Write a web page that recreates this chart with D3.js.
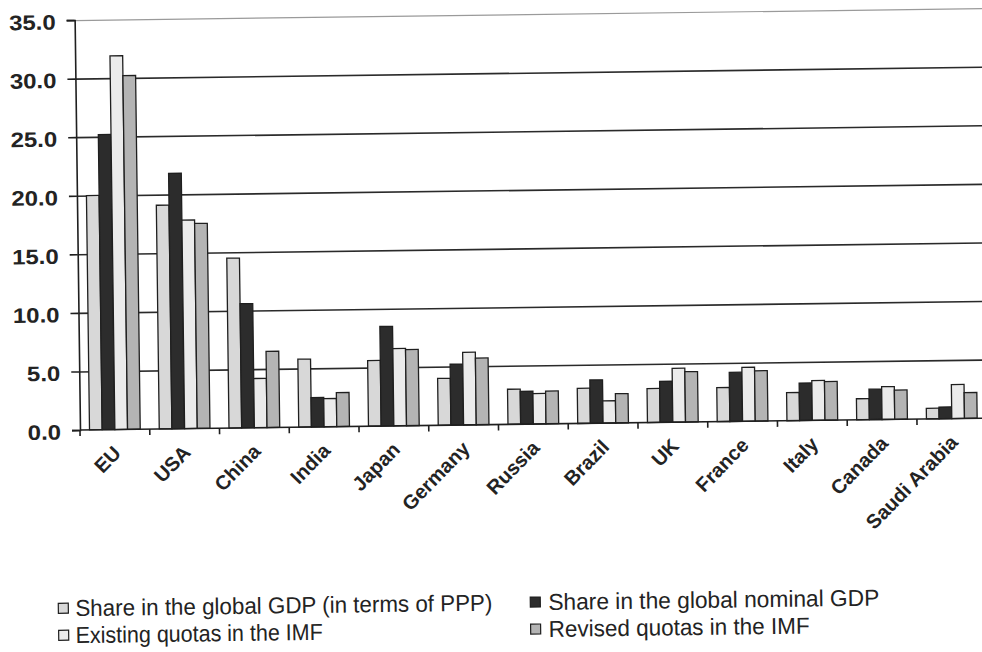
<!DOCTYPE html>
<html>
<head>
<meta charset="utf-8">
<script src="https://cdn.jsdelivr.net/npm/d3@7"></script>
<style>
  html, body { margin: 0; padding: 0; background: #fff; }
  svg { display: block; }
</style>
</head>
<body>
<svg id="chart" width="982" height="652"></svg>
<script>
// Shares of world output versus IMF quota shares, per economy (%)
const categories = ["EU", "USA", "China", "India", "Japan", "Germany", "Russia",
  "Brazil", "UK", "France", "Italy", "Canada", "Saudi Arabia"];
const pppShare      = [20.0, 19.1, 14.5, 5.8, 5.6, 4.0, 3.0, 3.0, 2.9, 2.9, 2.4, 1.8, 0.9];
const nominalShare  = [25.2, 21.8, 10.6, 2.5, 8.5, 5.2, 2.8, 3.7, 3.5, 4.2, 3.2, 2.6, 1.0];
const existingQuota = [31.9, 17.8, 4.2, 2.4, 6.6, 6.2, 2.6, 1.9, 4.6, 4.6, 3.4, 2.8, 2.9];
const revisedQuota  = [30.2, 17.5, 6.5, 2.9, 6.5, 5.7, 2.8, 2.5, 4.3, 4.3, 3.3, 2.5, 2.2];
const seriesNames = [
  "Share in the global GDP (in terms of PPP)",
  "Share in the global nominal GDP",
  "Existing quotas in the IMF",
  "Revised quotas in the IMF"
];
const yTicks = [0, 5, 10, 15, 20, 25, 30, 35];

const seriesValues = [pppShare, nominalShare, existingQuota, revisedQuota];
const seriesColors = ["#d8d8d8", "#2c2c2c", "#ebebeb", "#b4b4b4"];
const outline = "#1f1f1f";

const svg = d3.select("#chart");
const plotLeft = 80, plotBottom = 430, plotTop = 20, plotRight = 80 + 13 * 69.75;

// the whole sheet sits slightly tilted
const g = svg.append("g").attr("transform", `rotate(-0.75, ${plotLeft}, ${plotBottom})`);

const x = d3.scaleBand().domain(categories).range([plotLeft, plotRight]).padding(0);
const bw = x.bandwidth() / 5.5;
const xs = d3.scaleBand().domain(d3.range(4))
  .range([0.75 * bw, x.bandwidth() - 0.75 * bw]).padding(0);
const y = d3.scaleLinear().domain([0, 35]).range([plotBottom, plotTop]);

// horizontal gridlines
const grid = g.append("g").attr("transform", `translate(${plotLeft},0)`)
  .call(d3.axisLeft(y).tickValues(yTicks.filter(v => v > 0)).tickSize(-(1010 - plotLeft)).tickFormat(""));
grid.select(".domain").remove();
grid.selectAll(".tick line")
  .attr("stroke", d => d === 35 ? "#9a9a9a" : "#2a2a2a")
  .attr("stroke-width", d => d === 35 ? 1.2 : 1.6);

// bars
const groups = g.append("g").selectAll("g").data(categories).join("g")
  .attr("transform", d => `translate(${x(d)},0)`);
groups.selectAll("rect")
  .data((c, i) => seriesValues.map((vals, s) => ({ s, v: vals[i] })))
  .join("rect")
  .attr("x", d => xs(d.s))
  .attr("width", xs.bandwidth())
  .attr("y", d => y(d.v))
  .attr("height", d => y(0) - y(d.v))
  .attr("fill", d => seriesColors[d.s])
  .attr("stroke", outline)
  .attr("stroke-width", 1.3);

// y axis with labels
const yAxis = g.append("g").attr("transform", `translate(${plotLeft},0)`)
  .call(d3.axisLeft(y).tickValues(yTicks).tickSize(8).tickPadding(11)
    .tickFormat(d3.format(".1f")));
yAxis.select(".domain").attr("stroke", "#1f1f1f").attr("stroke-width", 1.6);
yAxis.selectAll(".tick line").attr("stroke", "#1f1f1f").attr("stroke-width", 1.6);
yAxis.selectAll(".tick text")
  .attr("fill", "#232323")
  .attr("y", 2)
  .style("font-family", "'Liberation Sans', Arial, sans-serif")
  .style("font-weight", "bold")
  .style("font-size", "21px")
  .each(function () {
    const w = this.getComputedTextLength();
    d3.select(this).attr("textLength", w * 1.14).attr("lengthAdjust", "spacingAndGlyphs");
  });

// x axis line and category boundary ticks
const xAxis = g.append("g");
xAxis.append("line")
  .attr("x1", plotLeft).attr("x2", 1010).attr("y1", y(0)).attr("y2", y(0))
  .attr("stroke", "#1f1f1f").attr("stroke-width", 1.6);
xAxis.selectAll("line.tk").data(categories).join("line").attr("class", "tk")
  .attr("x1", d => x(d)).attr("x2", d => x(d))
  .attr("y1", y(0)).attr("y2", y(0) + 6)
  .attr("stroke", "#1f1f1f").attr("stroke-width", 1.6);

// rotated category labels
xAxis.selectAll("text").data(categories).join("text")
  .attr("text-anchor", "end")
  .attr("transform", d => `translate(${x(d) + x.bandwidth() / 2 + 7},${y(0) + 25}) rotate(-45)`)
  .attr("fill", "#232323")
  .style("font-family", "'Liberation Sans', Arial, sans-serif")
  .style("font-weight", "bold")
  .style("font-size", "20px")
  .text(d => d);

// legend, two columns by two rows
const legendPos = [
  { sx: 56, sy: 603, tx: 73, ty: 616, w: 417 },
  { sx: 528, sy: 603, tx: 546, ty: 616, w: 331 },
  { sx: 56, sy: 630, tx: 73, ty: 643, w: 247 },
  { sx: 528, sy: 630, tx: 546, ty: 643, w: 261 }
];
const legend = g.append("g");
legend.selectAll("rect").data(seriesNames).join("rect")
  .attr("x", (d, i) => legendPos[i].sx)
  .attr("y", (d, i) => legendPos[i].sy)
  .attr("width", 10).attr("height", 10)
  .attr("fill", (d, i) => seriesColors[i])
  .attr("stroke", outline).attr("stroke-width", 1.2);
legend.selectAll("text").data(seriesNames).join("text")
  .attr("x", (d, i) => legendPos[i].tx)
  .attr("y", (d, i) => legendPos[i].ty)
  .attr("fill", "#232323")
  .attr("textLength", (d, i) => legendPos[i].w)
  .attr("lengthAdjust", "spacingAndGlyphs")
  .style("font-family", "'Liberation Sans Narrow', 'Liberation Sans', Arial, sans-serif")
  .style("font-size", "23px")
  .text(d => d);
</script>
</body>
</html>
